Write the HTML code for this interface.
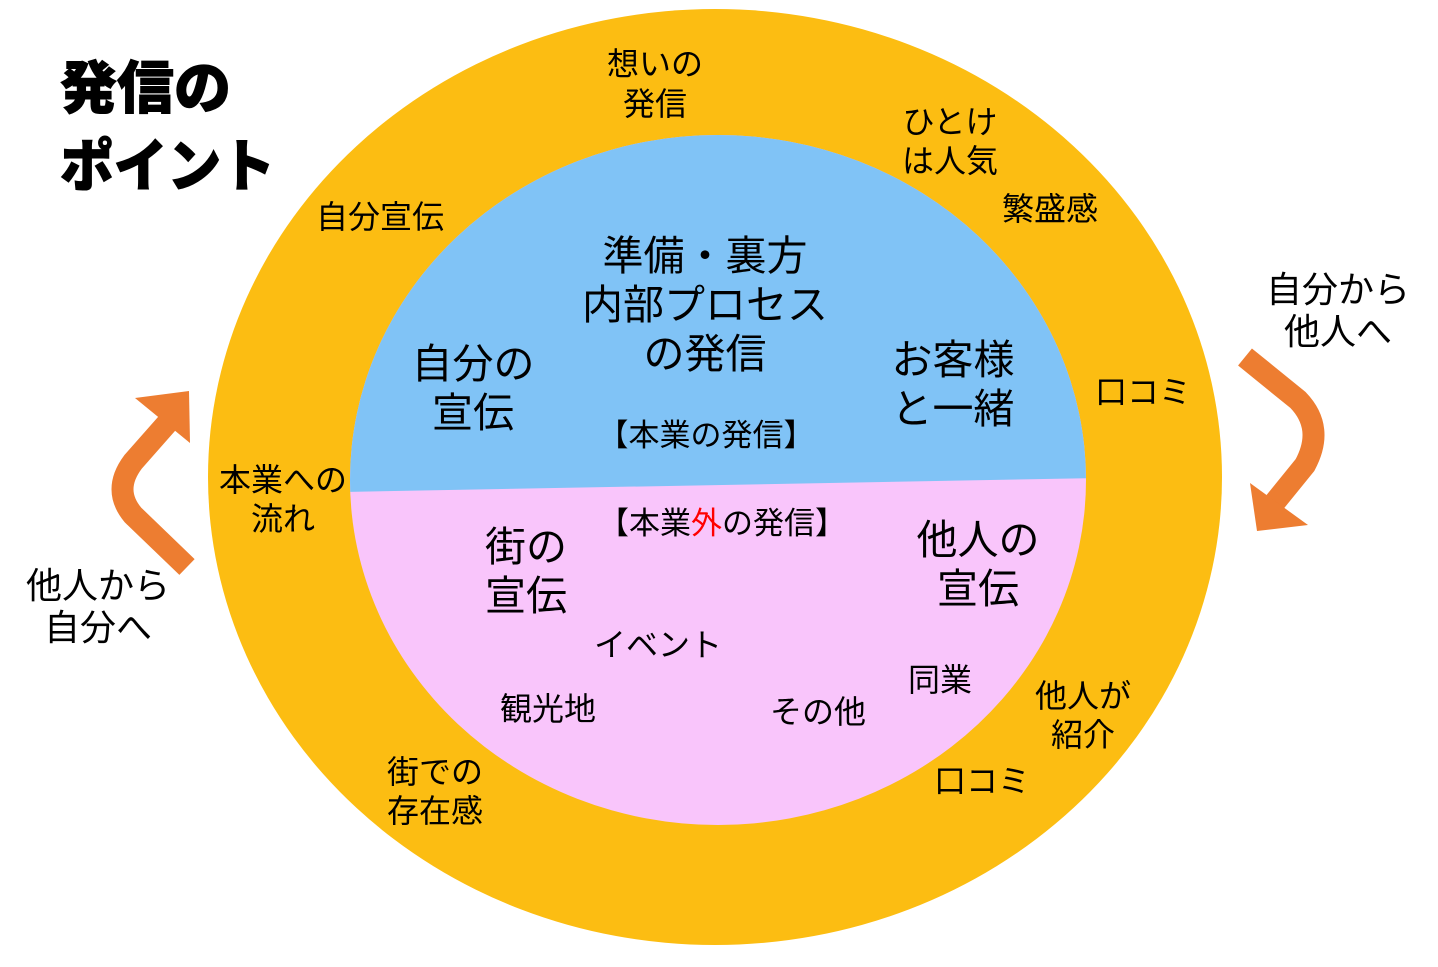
<!DOCTYPE html>
<html><head><meta charset="utf-8"><style>
html,body{margin:0;padding:0;background:#fff;}
svg text{font-family:"Liberation Sans","Noto Sans CJK JP",sans-serif;fill:#000;}
</style></head><body>
<svg width="1438" height="962" viewBox="0 0 1438 962" xmlns="http://www.w3.org/2000/svg">
<ellipse cx="715" cy="477" rx="507" ry="468" fill="#FCBD12"/>
<clipPath id="c"><ellipse cx="718" cy="480" rx="368" ry="345"/></clipPath>
<g clip-path="url(#c)">
<rect x="340" y="120" width="760" height="720" fill="#F9C5FB"/>
<polygon points="340,120 1100,120 1100,478 340,492" fill="#80C3F6"/>
</g>
<path d="M187,567 L133,515 Q112,490 133,462 L170,420" fill="none" stroke="#ED7D31" stroke-width="22"/>
<polygon points="189,391 135,398 190,443" fill="#ED7D31"/>
<path d="M1245,357 L1298,400 Q1325,428 1305,465 L1275,502" fill="none" stroke="#ED7D31" stroke-width="22"/>
<polygon points="1257,531 1250,483 1308,525" fill="#ED7D31"/>
<g font-weight="900" font-size="57" style="stroke:#000;stroke-width:1">
<text x="60" y="108">発信の</text>
<text x="60" y="186" textLength="215" lengthAdjust="spacingAndGlyphs">ポイント</text>
</g>
<g font-size="36" text-anchor="middle">
<text x="1338" y="302">自分から</text>
<text x="1338" y="344">他人へ</text>
<text x="98" y="598">他人から</text>
<text x="98" y="640">自分へ</text>
</g>
<g font-size="32" text-anchor="middle">
<text x="655" y="75">想いの</text>
<text x="655" y="115">発信</text>
<text x="950" y="133">ひとけ</text>
<text x="950" y="172">は人気</text>
<text x="1050" y="220">繁盛感</text>
<text x="380" y="228">自分宣伝</text>
<text x="1143" y="403">口コミ</text>
<text x="283" y="491">本業への</text>
<text x="283" y="530">流れ</text>
<text x="435" y="783">街での</text>
<text x="435" y="822">存在感</text>
<text x="1083" y="707">他人が</text>
<text x="1083" y="746">紹介</text>
<text x="982" y="792">口コミ</text>
<text x="940" y="691">同業</text>
<text x="818" y="723">その他</text>
<text x="548" y="720">観光地</text>
<text x="658" y="656">イベント</text>
</g>
<g font-size="31" text-anchor="middle">
<text x="706" y="446">【本業の発信】</text>
<text x="722" y="534">【本業<tspan style="fill:#FF0000">外</tspan>の発信】</text>
</g>
<g font-size="41" text-anchor="middle">
<text x="705" y="270">準備・裏方</text>
<text x="705" y="319">内部プロセス</text>
<text x="705" y="368">の発信</text>
<text x="473" y="378">自分の</text>
<text x="473" y="427">宣伝</text>
<text x="953" y="374">お客様</text>
<text x="953" y="423">と一緒</text>
<text x="526" y="561">街の</text>
<text x="526" y="610">宣伝</text>
<text x="978" y="554">他人の</text>
<text x="978" y="603">宣伝</text>
</g>
</svg>
</body></html>
